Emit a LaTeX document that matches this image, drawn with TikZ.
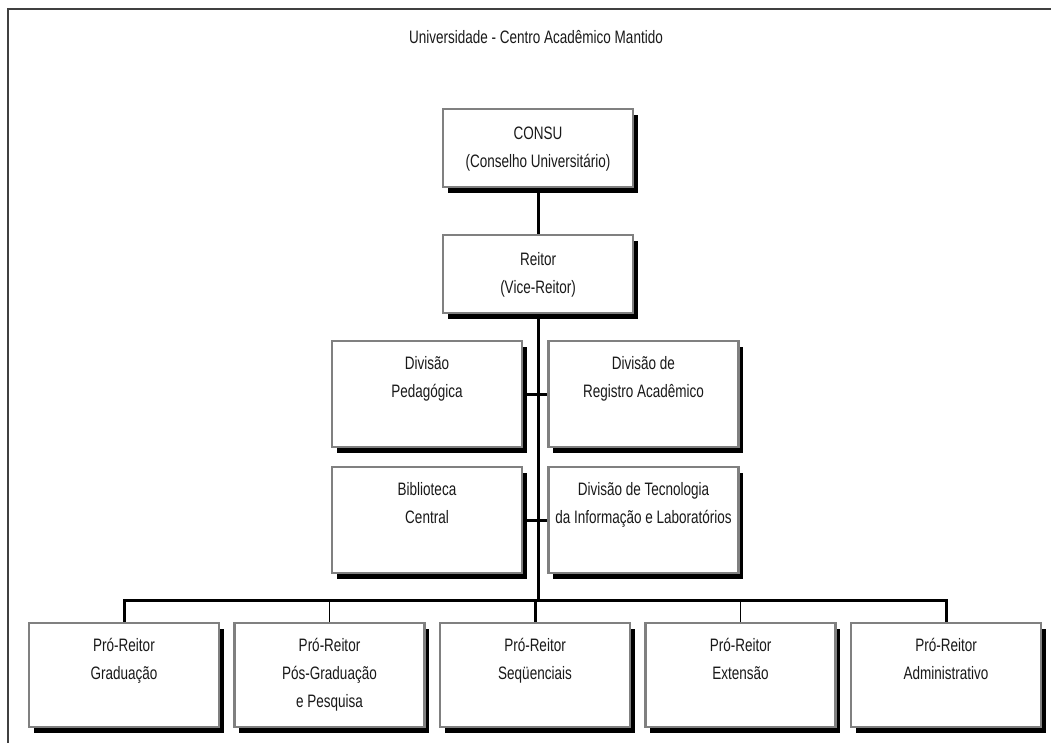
\documentclass[tikz,border=0pt]{standalone}
\usepackage{fontspec}
\setmainfont{Liberation Sans}[FakeStretch=0.75]
\usetikzlibrary{positioning}
\usetikzlibrary{shadows}
\tikzset{
  unit/.style = {
    draw = gray, line width = 2.4pt, fill = white, inner sep = 0pt,
    align = center, minimum width = 190pt, text = black!90,
    font = \fontsize{18pt}{28pt}\selectfont,
    general shadow = {fill = black, shadow xshift = 4.5pt, shadow yshift = -5.5pt}  }
}

\begin{document}
\begin{tikzpicture}[x=1pt, y=-1pt,
head_style/.style={unit, text height=58pt, text depth=20pt},
div_style/.style={unit, text height=56pt, text depth=50pt},
pro_two/.style={unit, text height=56pt, text depth=48pt},
pro_three/.style={unit, text height=84pt, text depth=20pt},
trunk/.style={line width=3pt},
twig/.style={line width=1.4pt}]

\useasboundingbox (0,0) rectangle (1051,742);
\draw[line width=2.4pt, black!75] (8,760) |- (1070,9);

\node[text=black!90, font=\fontsize{18pt}{28pt}\selectfont] (title) at (536,37)
  {Universidade - Centro Acadêmico Mantido};

\node[head_style] (consu) at (538,148) {CONSU\\(Conselho Universitário)};
\node[head_style] (reitor) at (538,274) {Reitor\\(Vice-Reitor)};

\node[div_style] (divped) at (427,394) {Divisão\\Pedagógica};
\node[div_style] (divreg) at (643.5,394) {Divisão de\\Registro Acadêmico};
\node[div_style] (biblio) at (427,520) {Biblioteca\\Central};
\node[div_style] (divtec) at (643.5,520) {Divisão de Tecnologia\\da Informação e Laboratórios};

\foreach \x/\y/\s/\t in {124/1/pro_two/{Pró-Reitor\\Graduação},
  329.5/2/pro_three/{Pró-Reitor\\Pós-Graduação\\e Pesquisa},
  535/3/pro_two/{Pró-Reitor\\Seqüenciais},
  740.5/4/pro_two/{Pró-Reitor\\Extensão},
  946/5/pro_two/{Pró-Reitor\\Administrativo}}{
 \node[\s] (pr\y) at (\x,675) {\t};
}

\coordinate (bus) at (537,600);

\draw[trunk] (consu) -- (reitor);
\draw[trunk] (reitor) -- (reitor |- bus);
\draw[trunk] (divped) -- (divreg);
\draw[trunk] (biblio) -- (divtec);
\draw[trunk] (pr1) |- (bus) -| (pr5);
\draw[trunk] (pr3 |- bus) -- (pr3);
\draw[twig] (pr2 |- bus) -- (pr2);
\draw[twig] (pr4 |- bus) -- (pr4);
\end{tikzpicture}
\end{document}
